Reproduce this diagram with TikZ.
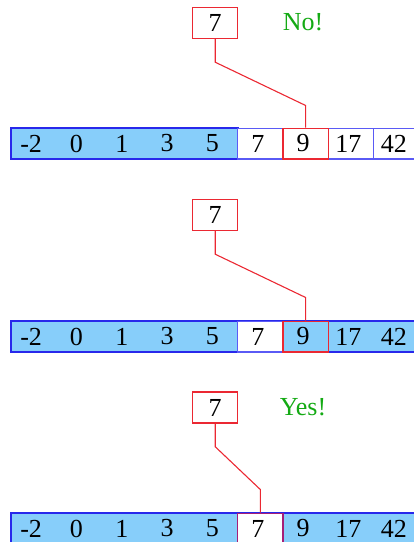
\documentclass[tikz,border=0pt]{standalone}
\usepackage{fontspec}
\setmainfont{Liberation Serif}
\usetikzlibrary{calc}
\definecolor{fillblue}{RGB}{135,206,250}
\definecolor{edgeblue}{RGB}{40,40,235}
\definecolor{softblue}{RGB}{90,90,245}
\definecolor{keyred}{RGB}{235,40,50}
\definecolor{okgreen}{RGB}{20,170,20}
\definecolor{mixpurple}{RGB}{165,30,120}
\tikzset{
  cell/.style={minimum width=45.33pt, minimum height=30.5pt, inner sep=0pt,
    font=\fontsize{26}{26}\selectfont, text=black},
  keybox/.style={draw=keyred, line width=1.4pt, fill=white, minimum width=45pt,
    minimum height=31pt, inner sep=0pt, font=\fontsize{26}{26}\selectfont},
  rowfill/.style={fill=fillblue, draw=edgeblue, line width=1.6pt},
  whitecell/.style={fill=white, draw=softblue, line width=1.5pt},
  hitcell/.style={draw=keyred, line width=1.5pt},
  link/.style={draw=keyred, line width=1.1pt},
  verdict/.style={text=okgreen, font=\fontsize{26}{26}\selectfont},
}
\begin{document}
\begin{tikzpicture}[x=1pt, y=-1pt]
\useasboundingbox (0,0) rectangle (414,542);
% cell anchors
\foreach \r/\yy in {1/143.5, 2/336.5, 3/528.5} {
  \foreach \i in {0,...,8} {
    \coordinate (p\r c\i) at ({11+45.33*(\i+0.5)}, \yy);
  }
}
% ---------- row 1 ----------
\node[cell] (r1c0) at (p1c0) {};
\node[cell] (r1c4) at (p1c4) {};
\draw[rowfill] (r1c0.north west) rectangle (r1c4.south east);
\node[cell, whitecell] (r1c5) at (p1c5) {};
\node[cell, whitecell] (r1c7) at (p1c7) {};
\node[cell, whitecell] (r1c8) at (p1c8) {};
\node[cell, fill=white] (r1c6) at (p1c6) {};
\node[cell, hitcell] (r1h) at (p1c6) {};
% ---------- row 2 ----------
\node[cell] (r2c0) at (p2c0) {};
\node[cell] (r2c8) at (p2c8) {};
\draw[rowfill] (r2c0.north west) rectangle (r2c8.south east);
\node[cell, whitecell] (r2c5) at (p2c5) {};
\node[cell, hitcell] (r2c6) at (p2c6) {};
% ---------- row 3 ----------
\node[cell] (r3c0) at (p3c0) {};
\node[cell] (r3c8) at (p3c8) {};
\draw[rowfill] (r3c0.north west) rectangle (r3c8.south east);
\node[cell, fill=white, draw=mixpurple, line width=1.5pt] (r3c5) at (p3c5) {};
% ---------- numbers ----------
\foreach \r in {1,2,3} {
  \foreach \i/\v in {0/-2,1/0,2/1,3/3,4/5,5/7,6/9,7/17,8/42} {
    \node[cell] (t\r n\i) at ($(p\r c\i)+(-2.5,0)$) {\v};
  }
}
% ---------- keys ----------
\node[keybox] (k1) at (215.2, 23) {7};
\node[keybox] (k2) at (215.2, 215) {7};
\node[keybox] (k3) at (215.2, 407.5) {7};
\node[verdict] (no) at (303, 22) {No!};
\node[verdict] (yes) at (303, 407) {Yes!};
% ---------- connectors ----------
\coordinate (a1) at ($(k1.south)+(0,23)$);
\coordinate (b1) at ($(r1h.north)+(0,-22)$);
\draw[link] (k1.south) -- (a1) -- (b1) -- (r1h.north);
\coordinate (a2) at ($(k2.south)+(0,23)$);
\coordinate (b2) at ($(r2c6.north)+(0,-23)$);
\draw[link] (k2.south) -- (a2) -- (b2) -- (r2c6.north);
\coordinate (a3) at ($(k3.south)+(0,23)$);
\coordinate (b3) at ($(r3c5.north)+(0,-23)$);
\draw[link] (k3.south) -- (a3) -- (b3) -- (r3c5.north);
\end{tikzpicture}
\end{document}
